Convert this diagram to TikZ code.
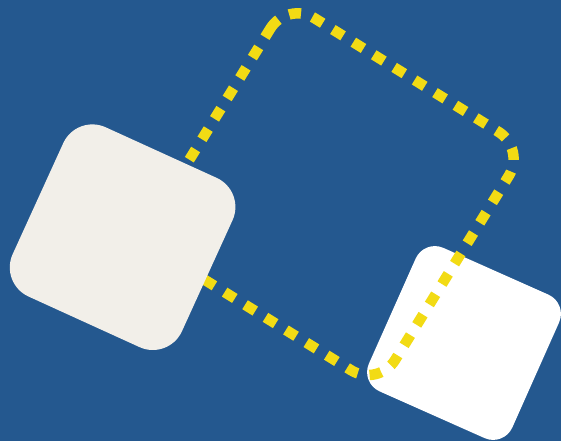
\documentclass[tikz,border=0pt]{standalone}
\usepackage{tikz}
\definecolor{bgblue}{RGB}{36,88,143}
\definecolor{beigec}{RGB}{242,239,233}
\definecolor{yellowc}{RGB}{242,219,20}
\tikzset{
  card/.style={rounded corners=#1},
  dotline/.style={draw=yellowc, line width=10.5pt, dash pattern=on 12pt off 12pt}
}
\begin{document}
\begin{tikzpicture}[x=1pt,y=1pt]
  \fill[bgblue] (0,0) rectangle (561,441);
  \useasboundingbox (0,0) rectangle (561,441);
  % white card
  \begin{scope}[shift={(464,98)}, rotate=-24]
    \fill[white, card=21pt] (-78.5,-78.5) rectangle (78.5,78.5);
  \end{scope}
  % yellow dotted rounded square
  \begin{scope}[shift={(332.75,246.8)}, rotate=-31.7]
    \path[dotline] (-140.15,108.15)
      arc[start angle=180, end angle=90, radius=32]
      -- (108.15,140.15)
      arc[start angle=90, end angle=0, radius=32]
      -- (140.15,-108.15)
      arc[start angle=0, end angle=-90, radius=32]
      -- (-108.15,-140.15)
      arc[start angle=-90, end angle=-180, radius=32]
      -- cycle;
  \end{scope}
  % beige card
  \begin{scope}[shift={(122.6,203.8)}, rotate=-24.5]
    \fill[beigec, card=32pt] (-93,-93) rectangle (93,93);
  \end{scope}
\end{tikzpicture}
\end{document}
